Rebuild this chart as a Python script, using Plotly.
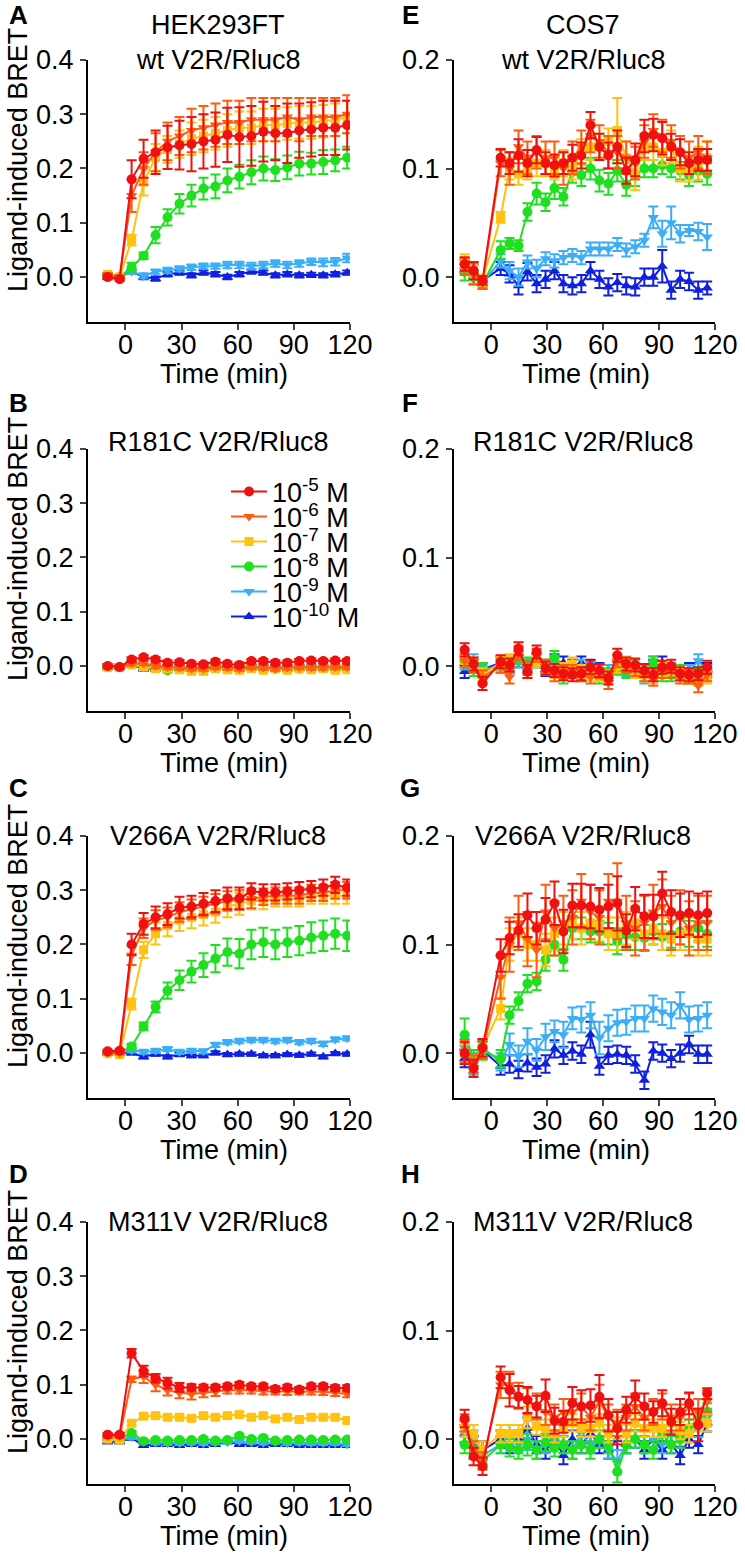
import plotly.graph_objects as go

# ---------------- data ----------------
t_hek = [-9.5, -3.1, 3.3, 9.7, 16.1, 22.5, 28.9, 35.3, 41.7, 48.1, 54.5, 60.9,
         67.3, 73.7, 80.1, 86.5, 92.9, 99.3, 105.7, 112.1, 118.5]
t_cos = [-14.3, -9.5, -4.7, 5.0, 9.8, 14.6, 19.4, 24.3, 29.1, 33.9, 38.7, 43.5,
         48.3, 53.2, 58.0, 62.8, 67.6, 72.4, 77.2, 82.1, 86.9, 91.7, 96.5, 101.3,
         106.1, 111.0, 115.8]

conc_labels = ["10<sup>-5</sup> M", "10<sup>-6</sup> M", "10<sup>-7</sup> M",
               "10<sup>-8</sup> M", "10<sup>-9</sup> M", "10<sup>-10</sup> M"]

# Panel A: HEK293FT wt
A_e5 = [0.0, -0.004, 0.18, 0.218, 0.23, 0.239, 0.243, 0.245, 0.25, 0.253, 0.262, 0.258, 0.26, 0.268, 0.265, 0.265, 0.27, 0.272, 0.275, 0.275, 0.28]
A_e6 = [0.003, 0.0, 0.15, 0.2, 0.23, 0.25, 0.26, 0.27, 0.275, 0.28, 0.285, 0.285, 0.29, 0.29, 0.29, 0.295, 0.29, 0.295, 0.295, 0.295, 0.3]
A_e7 = [0.005, 0.0, 0.068, 0.175, 0.22, 0.235, 0.245, 0.255, 0.26, 0.265, 0.27, 0.275, 0.275, 0.28, 0.28, 0.283, 0.285, 0.285, 0.287, 0.29, 0.295]
A_e8 = [0.0, 0.0, 0.018, 0.039, 0.077, 0.11, 0.135, 0.15, 0.163, 0.167, 0.178, 0.185, 0.193, 0.2, 0.197, 0.202, 0.209, 0.209, 0.212, 0.215, 0.22]
A_e9 = [0.0, 0.0, 0.01, 0.002, 0.01, 0.012, 0.015, 0.018, 0.02, 0.02, 0.022, 0.022, 0.02, 0.022, 0.025, 0.022, 0.025, 0.028, 0.027, 0.028, 0.035]
A_e10 = [0.0, 0.0, 0.01, 0.0, -0.003, 0.005, 0.008, 0.003, 0.008, 0.005, 0.0, 0.005, 0.01, 0.008, 0.003, 0.005, 0.003, 0.004, 0.003, 0.005, 0.008]
A_err5 = [0.004, 0.003, 0.035, 0.035, 0.04, 0.04, 0.045, 0.05, 0.05, 0.05, 0.05, 0.055, 0.055, 0.055, 0.05, 0.055, 0.05, 0.05, 0.05, 0.05, 0.045]
A_err6 = [0.004, 0.003, 0.03, 0.03, 0.035, 0.035, 0.035, 0.04, 0.04, 0.04, 0.04, 0.04, 0.04, 0.04, 0.04, 0.035, 0.04, 0.035, 0.035, 0.035, 0.035]
A_err7 = [0.003, 0.003, 0.01, 0.025, 0.025, 0.025, 0.025, 0.03, 0.03, 0.03, 0.03, 0.03, 0.03, 0.03, 0.03, 0.03, 0.03, 0.03, 0.03, 0.03, 0.03]
A_err8 = [0.002, 0.002, 0.008, 0.006, 0.015, 0.015, 0.018, 0.02, 0.02, 0.022, 0.022, 0.022, 0.022, 0.022, 0.02, 0.022, 0.022, 0.02, 0.022, 0.02, 0.02]
A_err9 = [0.002, 0.002, 0.004, 0.005, 0.004, 0.005, 0.005, 0.005, 0.005, 0.005, 0.006, 0.006, 0.006, 0.006, 0.006, 0.006, 0.006, 0.006, 0.007, 0.007, 0.008]
A_err10 = [0.002, 0.002, 0.003, 0.004, 0.004, 0.004, 0.004, 0.004, 0.004, 0.004, 0.004, 0.004, 0.004, 0.004, 0.004, 0.004, 0.004, 0.004, 0.004, 0.004, 0.004]

# Panel B: HEK293FT R181C
B_e5 = [0.0, -0.002, 0.012, 0.016, 0.012, 0.006, 0.007, 0.004, 0.003, 0.008, 0.004, 0.002, 0.009, 0.009, 0.006, 0.006, 0.009, 0.01, 0.009, 0.01, 0.009]
B_e6 = [0.0, -0.002, 0.005, 0.005, 0.0, -0.002, -0.003, -0.005, -0.005, -0.002, -0.003, -0.005, -0.002, -0.003, -0.005, -0.003, -0.002, -0.003, -0.003, -0.002, -0.002]
B_e7 = [-0.003, -0.003, 0.002, -0.002, -0.005, -0.005, -0.007, -0.01, -0.01, -0.005, -0.007, -0.008, -0.005, -0.008, -0.005, -0.008, -0.005, -0.007, -0.005, -0.008, -0.007]
B_e8 = [-0.002, -0.002, 0.005, 0.0, -0.003, -0.008, -0.005, -0.005, -0.003, -0.002, -0.003, -0.002, -0.003, -0.003, -0.005, -0.003, -0.005, -0.005, -0.003, -0.005, -0.005]
B_e9 = [0.0, 0.0, 0.003, -0.002, 0.0, -0.002, -0.002, -0.003, -0.002, -0.002, -0.002, -0.003, -0.002, -0.002, -0.003, -0.003, -0.002, -0.002, -0.002, -0.003, -0.003]
B_e10 = [-0.003, -0.003, 0.002, -0.005, -0.005, -0.003, -0.003, -0.005, -0.005, -0.003, -0.003, -0.005, -0.003, -0.004, -0.003, -0.005, -0.004, -0.003, -0.004, -0.003, -0.004]
B_err = [0.003, 0.003, 0.004, 0.004, 0.004, 0.004, 0.004, 0.004, 0.004, 0.004, 0.004, 0.004, 0.004, 0.004, 0.004, 0.004, 0.004, 0.004, 0.004, 0.004, 0.004]

# Panel C: HEK293FT V266A
C_e5 = [0.003, 0.004, 0.2, 0.238, 0.25, 0.256, 0.268, 0.27, 0.275, 0.28, 0.285, 0.285, 0.298, 0.296, 0.296, 0.298, 0.3, 0.302, 0.305, 0.31, 0.305]
C_e6 = [0.0, 0.0, 0.18, 0.23, 0.245, 0.25, 0.26, 0.265, 0.27, 0.275, 0.28, 0.282, 0.285, 0.288, 0.29, 0.29, 0.29, 0.295, 0.295, 0.3, 0.3]
C_e7 = [0.0, -0.003, 0.09, 0.19, 0.22, 0.235, 0.245, 0.25, 0.255, 0.26, 0.27, 0.275, 0.28, 0.28, 0.285, 0.285, 0.285, 0.29, 0.29, 0.29, 0.29]
C_e8 = [0.0, 0.0, 0.012, 0.049, 0.085, 0.115, 0.134, 0.15, 0.162, 0.174, 0.186, 0.183, 0.2, 0.204, 0.2, 0.204, 0.207, 0.213, 0.216, 0.22, 0.216]
C_e9 = [0.0, 0.0, 0.005, 0.002, 0.004, 0.007, 0.002, 0.004, 0.003, 0.015, 0.02, 0.022, 0.024, 0.024, 0.022, 0.024, 0.02, 0.022, 0.017, 0.025, 0.027]
C_e10 = [0.0, 0.0, 0.0, -0.007, -0.002, -0.007, -0.003, -0.005, -0.005, 0.0, -0.003, -0.002, -0.002, -0.005, -0.005, -0.003, -0.004, -0.002, -0.007, -0.001, -0.002]
C_err5 = [0.003, 0.003, 0.02, 0.02, 0.02, 0.02, 0.02, 0.02, 0.02, 0.02, 0.02, 0.02, 0.015, 0.015, 0.015, 0.015, 0.015, 0.015, 0.015, 0.015, 0.015]
C_err6 = [0.003, 0.003, 0.018, 0.018, 0.018, 0.018, 0.018, 0.018, 0.018, 0.018, 0.018, 0.018, 0.018, 0.015, 0.015, 0.015, 0.015, 0.015, 0.015, 0.015, 0.015]
C_err7 = [0.003, 0.003, 0.01, 0.015, 0.02, 0.02, 0.02, 0.02, 0.02, 0.02, 0.02, 0.02, 0.015, 0.015, 0.015, 0.015, 0.015, 0.015, 0.015, 0.015, 0.015]
C_err8 = [0.002, 0.002, 0.005, 0.007, 0.01, 0.015, 0.018, 0.02, 0.022, 0.025, 0.025, 0.027, 0.027, 0.027, 0.027, 0.027, 0.027, 0.028, 0.028, 0.028, 0.028]
C_err9 = [0.002, 0.002, 0.004, 0.004, 0.004, 0.004, 0.004, 0.004, 0.004, 0.004, 0.004, 0.004, 0.004, 0.004, 0.004, 0.004, 0.004, 0.004, 0.004, 0.004, 0.004]
C_err10 = [0.002, 0.002, 0.003, 0.003, 0.003, 0.003, 0.003, 0.003, 0.003, 0.003, 0.003, 0.003, 0.003, 0.003, 0.003, 0.003, 0.003, 0.003, 0.003, 0.003, 0.003]

# Panel D: HEK293FT M311V
D_e5 = [0.008, 0.008, 0.158, 0.125, 0.112, 0.103, 0.095, 0.095, 0.095, 0.095, 0.097, 0.1, 0.097, 0.097, 0.092, 0.095, 0.091, 0.097, 0.097, 0.094, 0.094]
D_e6 = [0.005, 0.005, 0.11, 0.115, 0.1, 0.09, 0.085, 0.083, 0.085, 0.087, 0.09, 0.09, 0.09, 0.088, 0.088, 0.087, 0.088, 0.088, 0.087, 0.085, 0.083]
D_e7 = [0.0, -0.002, 0.029, 0.042, 0.043, 0.04, 0.04, 0.038, 0.043, 0.04, 0.043, 0.045, 0.04, 0.043, 0.037, 0.04, 0.036, 0.04, 0.04, 0.04, 0.034]
D_e8 = [0.0, 0.0, 0.011, -0.004, -0.002, -0.003, -0.002, -0.002, 0.0, -0.003, -0.002, 0.006, 0.0, 0.002, -0.003, -0.002, -0.001, -0.001, -0.002, -0.001, -0.001]
D_e9 = [0.0, -0.002, 0.003, -0.005, -0.007, -0.008, -0.008, -0.007, -0.008, -0.007, -0.006, -0.004, -0.006, -0.007, -0.006, -0.008, -0.007, -0.008, -0.008, -0.008, -0.01]
D_e10 = [-0.005, -0.005, 0.002, -0.012, -0.01, -0.01, -0.012, -0.01, -0.012, -0.01, -0.005, -0.01, -0.01, -0.012, -0.01, -0.01, -0.012, -0.012, -0.012, -0.012, -0.012]
D_err5 = [0.003, 0.003, 0.008, 0.01, 0.008, 0.01, 0.008, 0.006, 0.005, 0.005, 0.005, 0.005, 0.005, 0.005, 0.005, 0.005, 0.005, 0.005, 0.005, 0.005, 0.005]
D_err6 = [0.003, 0.003, 0.005, 0.012, 0.012, 0.01, 0.01, 0.01, 0.008, 0.008, 0.006, 0.006, 0.006, 0.006, 0.006, 0.006, 0.006, 0.006, 0.006, 0.006, 0.006]
D_err7 = [0.003, 0.003, 0.004, 0.004, 0.004, 0.004, 0.004, 0.004, 0.004, 0.004, 0.004, 0.004, 0.004, 0.004, 0.004, 0.004, 0.004, 0.004, 0.004, 0.004, 0.004]
D_err8 = [0.003, 0.003, 0.003, 0.003, 0.003, 0.003, 0.003, 0.003, 0.003, 0.003, 0.003, 0.003, 0.003, 0.003, 0.003, 0.003, 0.003, 0.003, 0.003, 0.003, 0.003]

# Panel E: COS7 wt
E_e5 = [0.012, 0.006, -0.003, 0.11, 0.105, 0.112, 0.105, 0.117, 0.105, 0.103, 0.105, 0.11, 0.112, 0.14, 0.12, 0.112, 0.12, 0.098, 0.108, 0.13, 0.131, 0.128, 0.12, 0.115, 0.105, 0.108, 0.108]
E_e6 = [0.01, 0.003, -0.005, 0.105, 0.1, 0.12, 0.11, 0.115, 0.11, 0.11, 0.1, 0.11, 0.12, 0.13, 0.125, 0.115, 0.115, 0.11, 0.105, 0.125, 0.135, 0.13, 0.125, 0.115, 0.11, 0.115, 0.11]
E_e7 = [0.015, 0.005, -0.003, 0.055, 0.1, 0.095, 0.1, 0.105, 0.105, 0.1, 0.105, 0.1, 0.115, 0.12, 0.12, 0.125, 0.135, 0.11, 0.095, 0.12, 0.12, 0.115, 0.12, 0.1, 0.1, 0.105, 0.11]
E_e8 = [0.005, 0.0, -0.006, 0.025, 0.031, 0.029, 0.06, 0.077, 0.069, 0.082, 0.074, 0.097, 0.094, 0.1, 0.089, 0.086, 0.098, 0.085, 0.094, 0.1, 0.1, 0.103, 0.1, 0.098, 0.094, 0.098, 0.095]
E_e9 = [0.01, 0.005, -0.005, 0.015, 0.006, 0.0, 0.014, 0.008, 0.017, 0.015, 0.018, 0.02, 0.018, 0.026, 0.026, 0.026, 0.03, 0.025, 0.028, 0.034, 0.055, 0.04, 0.05, 0.04, 0.043, 0.042, 0.037]
E_e10 = [0.01, 0.005, -0.003, 0.008, 0.003, -0.008, 0.005, -0.006, -0.002, 0.006, -0.006, -0.008, -0.006, 0.006, -0.002, -0.009, -0.005, -0.008, -0.009, 0.0, 0.0, 0.01, -0.012, -0.002, -0.004, -0.012, -0.01]
E_err5 = [0.006, 0.008, 0.004, 0.008, 0.01, 0.015, 0.012, 0.012, 0.01, 0.01, 0.01, 0.012, 0.012, 0.012, 0.012, 0.012, 0.015, 0.012, 0.015, 0.015, 0.015, 0.015, 0.012, 0.012, 0.01, 0.01, 0.01]
E_err6 = [0.008, 0.01, 0.006, 0.012, 0.015, 0.015, 0.015, 0.015, 0.015, 0.015, 0.015, 0.015, 0.015, 0.015, 0.015, 0.015, 0.015, 0.015, 0.015, 0.015, 0.015, 0.015, 0.015, 0.015, 0.015, 0.015, 0.015]
E_err7 = [0.006, 0.006, 0.005, 0.005, 0.01, 0.01, 0.01, 0.012, 0.012, 0.01, 0.012, 0.01, 0.012, 0.012, 0.012, 0.012, 0.03, 0.015, 0.015, 0.012, 0.012, 0.012, 0.015, 0.012, 0.012, 0.015, 0.015]
E_err8 = [0.008, 0.006, 0.005, 0.008, 0.005, 0.005, 0.008, 0.01, 0.008, 0.01, 0.008, 0.01, 0.01, 0.01, 0.01, 0.01, 0.01, 0.01, 0.01, 0.008, 0.008, 0.008, 0.008, 0.008, 0.01, 0.01, 0.01]
E_err9 = [0.006, 0.006, 0.004, 0.006, 0.008, 0.008, 0.006, 0.008, 0.006, 0.006, 0.006, 0.006, 0.006, 0.006, 0.006, 0.006, 0.006, 0.006, 0.006, 0.006, 0.01, 0.012, 0.015, 0.008, 0.005, 0.008, 0.012]
E_err10 = [0.006, 0.006, 0.005, 0.006, 0.008, 0.008, 0.008, 0.008, 0.008, 0.008, 0.008, 0.008, 0.008, 0.008, 0.008, 0.008, 0.008, 0.008, 0.008, 0.008, 0.008, 0.015, 0.008, 0.008, 0.008, 0.008, 0.006]

# Panel F: COS7 R181C
F_e5 = [0.015, 0.002, -0.016, 0.004, 0.001, 0.016, -0.005, 0.013, -0.002, -0.004, -0.007, -0.008, -0.007, -0.001, -0.004, -0.011, 0.01, 0.002, 0.001, -0.004, -0.008, -0.001, 0.0, -0.007, -0.008, -0.007, -0.001]
F_e6 = [0.005, 0.0, -0.01, 0.0, -0.01, 0.012, -0.002, 0.01, 0.0, -0.008, -0.005, -0.005, -0.008, -0.01, -0.005, -0.015, 0.005, 0.0, -0.003, -0.008, -0.012, -0.005, -0.005, -0.01, -0.01, -0.018, -0.008]
F_e7 = [0.008, 0.002, -0.008, 0.003, 0.005, 0.013, -0.005, 0.005, -0.002, -0.005, -0.003, 0.002, -0.005, -0.008, -0.008, -0.01, 0.0, 0.003, -0.005, -0.008, -0.01, -0.003, -0.005, -0.008, -0.01, -0.012, -0.01]
F_e8 = [0.005, -0.003, -0.003, 0.0, 0.003, 0.008, 0.002, 0.005, 0.0, 0.008, -0.01, -0.005, -0.008, -0.005, -0.01, -0.008, -0.002, -0.005, 0.0, -0.005, 0.003, -0.008, -0.008, -0.005, -0.01, -0.008, -0.005]
F_e9 = [0.003, 0.005, -0.005, 0.002, 0.0, 0.005, 0.0, 0.005, 0.0, 0.003, -0.003, -0.005, 0.0, -0.003, -0.005, -0.005, 0.0, -0.003, -0.005, -0.01, 0.003, -0.005, -0.003, -0.005, -0.005, 0.005, -0.005]
F_e10 = [-0.005, 0.0, -0.003, 0.003, 0.0, 0.005, 0.0, 0.005, -0.003, 0.005, 0.003, 0.0, 0.003, 0.0, -0.003, -0.005, 0.0, 0.0, -0.003, -0.005, 0.0, 0.003, -0.003, -0.005, -0.003, -0.003, -0.003]
F_err = [0.006, 0.006, 0.006, 0.006, 0.006, 0.006, 0.006, 0.006, 0.006, 0.006, 0.006, 0.006, 0.006, 0.006, 0.006, 0.006, 0.006, 0.006, 0.006, 0.006, 0.006, 0.006, 0.006, 0.006, 0.006, 0.006, 0.006]

# Panel G: COS7 V266A
G_e5 = [0.0, -0.014, 0.005, 0.09, 0.106, 0.113, 0.127, 0.115, 0.123, 0.138, 0.112, 0.136, 0.136, 0.135, 0.132, 0.135, 0.138, 0.113, 0.133, 0.126, 0.126, 0.147, 0.13, 0.127, 0.129, 0.127, 0.129]
G_e6 = [0.002, -0.01, 0.003, 0.07, 0.1, 0.12, 0.105, 0.095, 0.13, 0.115, 0.12, 0.125, 0.14, 0.13, 0.125, 0.14, 0.14, 0.12, 0.115, 0.12, 0.13, 0.135, 0.12, 0.125, 0.115, 0.12, 0.12]
G_e7 = [0.0, -0.01, 0.005, 0.041, 0.1, 0.11, 0.1, 0.1, 0.095, 0.11, 0.115, 0.12, 0.115, 0.12, 0.118, 0.11, 0.11, 0.115, 0.12, 0.11, 0.115, 0.11, 0.105, 0.11, 0.11, 0.105, 0.105]
G_e8 = [0.017, -0.005, 0.002, -0.005, 0.035, 0.048, 0.064, 0.066, 0.086, 0.1, 0.086, 0.115, 0.115, 0.112, 0.112, 0.11, 0.103, 0.109, 0.107, 0.106, 0.112, 0.107, 0.109, 0.112, 0.11, 0.115, 0.11]
G_e9 = [0.005, -0.01, 0.005, -0.008, 0.008, -0.003, 0.011, 0.003, 0.015, 0.02, 0.017, 0.032, 0.031, 0.035, 0.014, 0.023, 0.028, 0.029, 0.032, 0.032, 0.041, 0.038, 0.035, 0.044, 0.031, 0.032, 0.035]
G_e10 = [-0.005, -0.01, 0.003, -0.012, -0.01, -0.015, -0.009, -0.013, -0.01, 0.004, -0.002, 0.002, -0.001, 0.017, -0.012, -0.002, -0.001, -0.002, -0.01, -0.025, 0.002, 0.0, -0.005, 0.0, 0.008, -0.001, -0.001]
G_err5 = [0.01, 0.008, 0.008, 0.015, 0.015, 0.015, 0.02, 0.015, 0.02, 0.02, 0.02, 0.02, 0.02, 0.02, 0.02, 0.02, 0.025, 0.015, 0.02, 0.02, 0.02, 0.02, 0.02, 0.02, 0.02, 0.02, 0.02]
G_err6 = [0.01, 0.008, 0.008, 0.02, 0.025, 0.025, 0.025, 0.025, 0.025, 0.025, 0.025, 0.025, 0.025, 0.025, 0.025, 0.025, 0.035, 0.025, 0.025, 0.025, 0.025, 0.025, 0.025, 0.025, 0.025, 0.025, 0.025]
G_err7 = [0.008, 0.008, 0.008, 0.01, 0.015, 0.015, 0.015, 0.015, 0.015, 0.015, 0.015, 0.015, 0.015, 0.015, 0.015, 0.015, 0.015, 0.015, 0.015, 0.015, 0.015, 0.015, 0.015, 0.015, 0.015, 0.015, 0.015]
G_err8 = [0.015, 0.008, 0.008, 0.008, 0.008, 0.008, 0.008, 0.008, 0.01, 0.01, 0.01, 0.01, 0.01, 0.01, 0.01, 0.01, 0.012, 0.012, 0.012, 0.012, 0.012, 0.012, 0.012, 0.012, 0.012, 0.012, 0.012]
G_err9 = [0.008, 0.01, 0.008, 0.008, 0.01, 0.01, 0.012, 0.01, 0.012, 0.01, 0.012, 0.01, 0.012, 0.012, 0.015, 0.012, 0.012, 0.012, 0.012, 0.012, 0.012, 0.012, 0.012, 0.012, 0.012, 0.012, 0.012]
G_err10 = [0.008, 0.008, 0.008, 0.008, 0.008, 0.008, 0.008, 0.008, 0.008, 0.008, 0.008, 0.008, 0.008, 0.012, 0.008, 0.008, 0.008, 0.008, 0.008, 0.008, 0.008, 0.008, 0.008, 0.008, 0.008, 0.008, 0.008]

# Panel H: COS7 M311V
H_e5 = [0.019, -0.016, -0.025, 0.057, 0.045, 0.039, 0.036, 0.03, 0.04, 0.017, 0.016, 0.033, 0.03, 0.031, 0.039, 0.022, 0.01, 0.027, 0.039, 0.03, 0.025, 0.033, 0.016, 0.025, 0.033, 0.013, 0.042]
H_e6 = [0.015, -0.01, -0.02, 0.05, 0.05, 0.04, 0.035, 0.03, 0.025, 0.02, 0.025, 0.025, 0.03, 0.02, 0.035, 0.02, 0.015, 0.02, 0.03, 0.02, 0.025, 0.03, 0.02, 0.02, 0.03, 0.025, 0.035]
H_e7 = [0.01, 0.005, -0.01, 0.005, 0.005, 0.005, 0.02, 0.012, 0.01, 0.005, 0.01, 0.015, 0.01, 0.01, 0.015, 0.005, 0.01, 0.005, 0.015, 0.01, 0.01, 0.01, 0.015, 0.008, 0.005, 0.015, 0.015]
H_e8 = [-0.005, -0.01, -0.02, -0.005, -0.008, -0.01, -0.005, -0.01, -0.003, -0.008, -0.005, -0.01, -0.005, -0.01, 0.0, -0.005, -0.03, -0.005, 0.0, -0.005, -0.01, 0.005, -0.005, 0.0, 0.01, 0.02, 0.025]
H_e9 = [0.005, 0.0, -0.015, -0.005, 0.005, -0.005, 0.0, -0.01, -0.005, 0.0, -0.005, -0.01, 0.005, -0.005, 0.0, -0.01, -0.02, -0.005, 0.0, -0.005, 0.0, -0.005, 0.005, 0.0, 0.005, 0.01, 0.02]
H_e10 = [0.005, -0.005, -0.01, 0.0, -0.005, 0.0, 0.01, -0.005, -0.01, 0.0, -0.015, 0.0, -0.005, 0.005, -0.005, -0.01, 0.0, -0.005, 0.0, -0.01, 0.0, -0.01, -0.005, -0.015, 0.0, -0.005, 0.015]
H_err5 = [0.008, 0.008, 0.008, 0.01, 0.015, 0.01, 0.012, 0.01, 0.015, 0.012, 0.01, 0.015, 0.015, 0.015, 0.02, 0.015, 0.015, 0.012, 0.015, 0.012, 0.01, 0.012, 0.012, 0.012, 0.01, 0.015, 0.005]
H_err6 = [0.008, 0.008, 0.008, 0.012, 0.012, 0.012, 0.012, 0.012, 0.012, 0.012, 0.012, 0.012, 0.012, 0.012, 0.015, 0.012, 0.012, 0.012, 0.012, 0.012, 0.012, 0.012, 0.012, 0.012, 0.012, 0.012, 0.01]
H_err_lo = [0.008, 0.008, 0.008, 0.008, 0.008, 0.008, 0.01, 0.008, 0.008, 0.008, 0.008, 0.008, 0.008, 0.008, 0.008, 0.008, 0.01, 0.008, 0.008, 0.008, 0.008, 0.008, 0.008, 0.008, 0.008, 0.008, 0.008]

# ---------------- styling ----------------
colors = ["#F01010", "#FF5C12", "#FFC20E", "#1FE01F", "#3AAEF7", "#1020E0"]
symbols = ["circle", "triangle-down", "square", "circle", "triangle-down", "triangle-up"]
msizes = [10, 10, 9, 10, 10, 10]
FONT = "Liberation Sans, Arial, sans-serif"
FS = 27
W, H = 745, 1560

panels = [
    ("A", 0, 0, t_hek, [A_e5, A_e6, A_e7, A_e8, A_e9, A_e10],
     [A_err5, A_err6, A_err7, A_err8, A_err9, A_err10]),
    ("B", 0, 1, t_hek, [B_e5, B_e6, B_e7, B_e8, B_e9, B_e10],
     [B_err, B_err, B_err, B_err, B_err, B_err]),
    ("C", 0, 2, t_hek, [C_e5, C_e6, C_e7, C_e8, C_e9, C_e10],
     [C_err5, C_err6, C_err7, C_err8, C_err9, C_err10]),
    ("D", 0, 3, t_hek, [D_e5, D_e6, D_e7, D_e8, D_e9, D_e10],
     [D_err5, D_err6, D_err7, D_err8, D_err8, D_err8]),
    ("E", 1, 0, t_cos, [E_e5, E_e6, E_e7, E_e8, E_e9, E_e10],
     [E_err5, E_err6, E_err7, E_err8, E_err9, E_err10]),
    ("F", 1, 1, t_cos, [F_e5, F_e6, F_e7, F_e8, F_e9, F_e10],
     [F_err, F_err, F_err, F_err, F_err, F_err]),
    ("G", 1, 2, t_cos, [G_e5, G_e6, G_e7, G_e8, G_e9, G_e10],
     [G_err5, G_err6, G_err7, G_err8, G_err9, G_err10]),
    ("H", 1, 3, t_cos, [H_e5, H_e6, H_e7, H_e8, H_e9, H_e10],
     [H_err5, H_err6, H_err_lo, H_err_lo, H_err_lo, H_err_lo]),
]

row_tops = [60, 449, 836, 1222]
plot_h = 262
col_x = [(88, 350), (454, 715)]
legend_names = ["legend", "legend2", "legend3", "legend4", "legend5", "legend6"]

fig = go.Figure()
layout = {}
annotations = []


def px_y(p):
    return 1 - p / H


for i, (letter, col, row, times, series, errs) in enumerate(panels):
    n = i + 1
    xa = "x" if n == 1 else f"x{n}"
    ya = "y" if n == 1 else f"y{n}"
    for k in reversed(range(6)):
        fig.add_trace(go.Scatter(
            x=times, y=series[k], xaxis=xa, yaxis=ya,
            mode="lines+markers", name=conc_labels[k],
            legend=legend_names[k],
            showlegend=(letter == "B"),
            line=dict(color=colors[k], width=2),
            marker=dict(symbol=symbols[k], size=msizes[k], color=colors[k],
                        line=dict(width=0)),
            error_y=dict(type="data", array=errs[k], color=colors[k],
                         thickness=2, width=5),
        ))
    x0, x1 = col_x[col]
    top = row_tops[row]
    bot = top + plot_h
    hek = col == 0
    layout[f"xaxis{'' if n == 1 else n}"] = dict(
        domain=[x0 / W, x1 / W], anchor=ya, range=[-20, 120],
        tickvals=[0, 30, 60, 90, 120], ticks="outside", ticklen=6, tickwidth=2,
        showline=True, linewidth=2, linecolor="black", showgrid=False,
        zeroline=False, tickfont=dict(size=FS, family=FONT, color="black"),
        ticklabelstandoff=-8,
    )
    layout[f"yaxis{'' if n == 1 else n}"] = dict(
        domain=[px_y(bot), px_y(top)], anchor=xa,
        range=[-0.083, 0.4] if hek else [-0.0413, 0.2],
        tickvals=[0, 0.1, 0.2, 0.3, 0.4] if hek else [0, 0.1, 0.2],
        tickformat=".1f", ticks="outside", ticklen=6, tickwidth=2,
        showline=True, linewidth=2, linecolor="black", showgrid=False,
        zeroline=False, tickfont=dict(size=FS, family=FONT, color="black"),
        ticklabelstandoff=1,
    )
    annotations.append(dict(text=f"<b>{letter}</b>", x=(18 if hek else 410) / W,
                            y=px_y([15, 403, 788, 1174][row]), xref="paper", yref="paper",
                            showarrow=False, xanchor="center", yanchor="middle",
                            font=dict(size=26, family=FONT, color="black")))
    annotations.append(dict(text="Time (min)", x=(224 if hek else 586) / W,
                            y=px_y(bot + 52), xref="paper", yref="paper",
                            showarrow=False, xanchor="center", yanchor="middle",
                            font=dict(size=FS, family=FONT, color="black")))
    if hek:
        annotations.append(dict(text="Ligand-induced BRET", x=18 / W,
                                y=px_y(top + 100), xref="paper", yref="paper",
                                showarrow=False, textangle=-90,
                                xanchor="center", yanchor="middle",
                                font=dict(size=FS, family=FONT, color="black")))

titles = [
    ("HEK293FT", 218, 25), ("wt V2R/Rluc8", 218, 60),
    ("COS7", 583, 25), ("wt V2R/Rluc8", 583, 60),
    ("R181C V2R/Rluc8", 218, 442), ("R181C V2R/Rluc8", 583, 442),
    ("V266A V2R/Rluc8", 218, 836), ("V266A V2R/Rluc8", 583, 836),
    ("M311V V2R/Rluc8", 218, 1222), ("M311V V2R/Rluc8", 583, 1222),
]
for txt, xx, yy in titles:
    annotations.append(dict(text=txt, x=xx / W, y=px_y(yy), xref="paper", yref="paper",
                            showarrow=False, xanchor="center", yanchor="middle",
                            font=dict(size=FS, family=FONT, color="black")))

legends = {}
for k, name in enumerate(legend_names):
    legends[name] = dict(x=226 / W, y=px_y(492 + 25 * k), xanchor="left", yanchor="middle",
                         bgcolor="rgba(0,0,0,0)", borderwidth=0,
                         font=dict(size=27, family=FONT, color="black"),
                         itemwidth=36, tracegroupgap=0)

fig.update_layout(
    width=W, height=H, margin=dict(l=0, r=0, t=0, b=0, pad=0, autoexpand=False),
    paper_bgcolor="white", plot_bgcolor="white",
    font=dict(family=FONT, color="black"),
    showlegend=True,
    annotations=annotations,
    **legends,
    **layout,
)

fig.write_html("out.html", config={"displayModeBar": False},
               post_script="document.body.style.margin='0px';document.body.style.overflow='hidden';")
